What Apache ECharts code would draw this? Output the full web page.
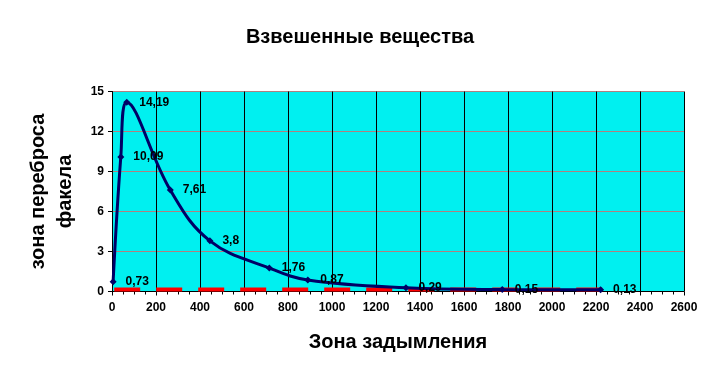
<!DOCTYPE html>
<html>
<head>
<meta charset="utf-8">
<script src="https://cdn.jsdelivr.net/npm/echarts@6/dist/echarts.min.js"></script>
<style>html,body{margin:0;padding:0;background:#fff}#c{width:720px;height:381px}</style>
</head>
<body>
<div id="c"></div>
<script>
var zoneX = [5, 40, 67, 265, 445, 715, 890, 1336, 1774, 2221];
var plumeY = [0.73, 10.09, 14.19, 7.61, 3.8, 1.76, 0.87, 0.29, 0.15, 0.13];
var limitX = [10, 2260];
var limitY = [0.15, 0.15];
var xTicks = [0, 200, 400, 600, 800, 1000, 1200, 1400, 1600, 1800, 2000, 2200, 2400, 2600];
var yTicks = [0, 3, 6, 9, 12, 15];

var mainData = zoneX.map(function (x, i) { return [x, plumeY[i]]; });
var limitData = limitX.map(function (x, i) { return [x, limitY[i]]; });
var F = '"Liberation Sans", Arial, sans-serif';

var chart = echarts.init(document.getElementById('c'));
chart.setOption({
  animation: false,
  backgroundColor: '#ffffff',
  title: {
    text: 'Взвешенные вещества',
    left: 'center',
    top: 22,
    textStyle: { fontFamily: F, fontSize: 20, fontWeight: 'bold', color: '#000' }
  },
  grid: { left: 112, right: 36, top: 91.5, bottom: 89.5, show: true, backgroundColor: '#00f0f0', borderWidth: 0 },
  xAxis: {
    type: 'value',
    min: xTicks[0], max: xTicks[xTicks.length - 1], interval: 200,
    name: 'Зона задымления',
    nameLocation: 'middle', nameGap: 41,
    nameTextStyle: { fontFamily: F, fontSize: 20, fontWeight: 'bold', color: '#000' },
    axisLine: { show: true, lineStyle: { color: '#000', width: 1 } },
    axisTick: { show: true, length: 4, lineStyle: { color: '#000' } },
    minorTick: { show: true, splitNumber: 4, length: 3, lineStyle: { color: '#000' } },
    axisLabel: { fontFamily: F, fontSize: 12, fontWeight: 'bold', color: '#000', margin: 10,
      formatter: function (v) { return String(v); } },
    splitLine: { show: true, lineStyle: { color: '#000', width: 1 } }
  },
  yAxis: {
    type: 'value',
    min: yTicks[0], max: yTicks[yTicks.length - 1], interval: 3,
    name: 'зона переброса\nфакела',
    nameLocation: 'middle', nameGap: 33, nameRotate: 90,
    nameTextStyle: { fontFamily: F, fontSize: 20, fontWeight: 'bold', color: '#000', lineHeight: 27 },
    axisLine: { show: true, lineStyle: { color: '#000', width: 1 } },
    axisTick: { show: true, length: 4, lineStyle: { color: '#000' } },
    axisLabel: { fontFamily: F, fontSize: 12, fontWeight: 'bold', color: '#000', margin: 8,
      formatter: function (v) { return String(v); } },
    splitLine: { show: true, interval: 0, lineStyle: { color: '#b08080', width: 1 } }
  },
  series: [
    {
      type: 'line',
      data: limitData,
      symbol: 'none',
      lineStyle: { color: '#ff0000', width: 4, type: [26, 16] },
      z: 2
    },
    {
      type: 'line',
      data: mainData,
      smooth: 0.4,
      symbol: 'diamond',
      symbolSize: 7,
      itemStyle: { color: '#000066' },
      lineStyle: { color: '#000066', width: 3 },
      label: {
        show: true, position: 'right', distance: 9,
        fontFamily: F, fontSize: 12, fontWeight: 'bold', color: '#000',
        formatter: function (p) { return String(p.value[1]).replace('.', ','); }
      },
      z: 3
    }
  ]
});
</script>
</body>
</html>
